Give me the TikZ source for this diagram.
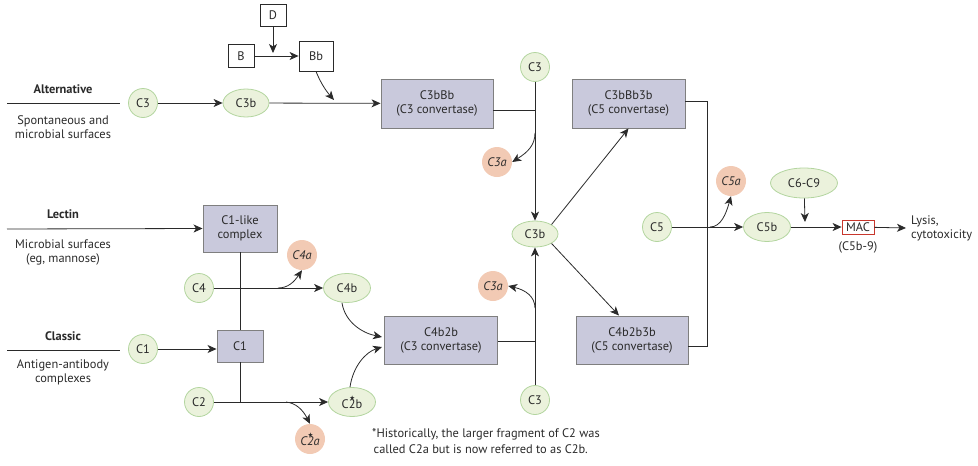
\documentclass[tikz,border=0pt]{standalone}
\usepackage{fontspec}
\setmainfont{PT Sans}
\newfontfamily\dejavu{DejaVu Sans}
\usetikzlibrary{arrows.meta,shapes.geometric}
\definecolor{gfill}{HTML}{EBF2DC}
\definecolor{gline}{HTML}{B3D59F}
\definecolor{sfill}{HTML}{F2CAB4}
\definecolor{bfill}{HTML}{C9C9DC}
\definecolor{bline}{HTML}{7F7F7F}
\definecolor{ink}{HTML}{2A2A2A}
\definecolor{macred}{HTML}{C8372D}
\newcommand{\starover}[1]{\makebox[0pt][l]{\makebox[0.55em]{\raisebox{1.25ex}{\fontsize{6.5}{6.5}\selectfont\upshape\dejavu ★}}}#1}
\begin{document}
\begin{tikzpicture}[x=1pt,y=-1pt,
  font=\fontsize{12.4}{14}\selectfont,
  every node/.style={inner sep=0pt, text=ink},
  gcirc/.style={circle, draw=gline, fill=gfill, line width=0.8pt, minimum size=29pt},
  gell/.style={ellipse, draw=gline, fill=gfill, line width=0.8pt, minimum width=47pt, minimum height=29pt},
  scirc/.style={circle, fill=sfill, minimum size=30pt, font=\fontsize{12.4}{14}\selectfont\itshape},
  cbox/.style={rectangle, draw=bline, fill=bfill, line width=0.9pt, align=center},
  wbox/.style={rectangle, draw=ink, fill=white, line width=0.8pt},
  conn/.style={draw=ink, line width=0.8pt},
  arr/.style={conn, -{Stealth[length=9pt,width=8pt,inset=2.5pt]}},
  ptitle/.style={font=\fontsize{12.4}{14}\selectfont\bfseries},
  psub/.style={align=center, font=\fontsize{12.4}{14}\selectfont},
]
\useasboundingbox (0,0) rectangle (978,466);

% pathway labels
\node[ptitle] (alt) at (63,89) {Alternative};
\node[psub] (altsub) at (63,127) {Spontaneous and\\microbial surfaces};
\node[ptitle] (lec) at (63,214) {Lectin};
\node[psub] (lecsub) at (63,252) {Microbial surfaces\\(eg, mannose)};
\node[ptitle] (cla) at (63,336) {Classic};
\node[psub] (clasub) at (63,372) {Antigen-antibody\\complexes};
\coordinate (altl1) at (7,103);  \coordinate (altl2) at (120,103);
\coordinate (clal1) at (7,350);  \coordinate (clal2) at (120,350);
\coordinate (lecl1) at (7,229);
\draw[conn] (altl1) -- (altl2);
\draw[conn] (clal1) -- (clal2);

% alternative pathway
\node[wbox, minimum width=26pt, minimum height=22pt] (d) at (273,15) {D};
\node[wbox, minimum width=26pt, minimum height=23pt] (b) at (241,56) {B};
\node[wbox, minimum width=34pt, minimum height=30pt] (bb) at (316,56) {Bb};
\node[gcirc] (c3alt) at (143,103) {C3};
\node[gell, minimum width=46pt, minimum height=28pt] (c3balt) at (246,103) {C3b};
\node[cbox, minimum width=112pt, minimum height=49pt] (c3bbb) at (437,103.5) {C3bBb\\(C3 convertase)};
\node[gcirc] (c3top) at (535,67) {C3};
\node[scirc] (c3aup) at (497,162) {C3a};
\node[gell, minimum width=46pt, minimum height=26pt] (c3bmid) at (535,234) {C3b};
\node[cbox, minimum width=113pt, minimum height=49pt] (c3bbb3b) at (628.5,103.5) {C3bBb3b\\(C5 convertase)};
\node[cbox, minimum width=112pt, minimum height=48pt] (c4b2b3b) at (632,340) {C4b2b3b\\(C5 convertase)};

\coordinate (dend) at (273,53);
\coordinate (bbend) at (334,100);
\coordinate (j1) at (535,110);
\coordinate (c3aupst) at (535,133);

\draw[arr] (b) -- (bb);
\draw[arr] (d) -- (dend);
\draw[arr] (bb.south) .. controls (321,84) and (327,92) .. (bbend);
\draw[arr] (c3alt) -- (c3balt);
\draw[arr] (c3balt) -- (c3bbb);
\draw[conn] (c3bbb.east |- j1) -- (j1);
\draw[arr] (c3top) -- (c3bmid);
\draw[arr] (c3aupst) .. controls (535,145) and (528,152) .. (c3aup.east);
\draw[arr] (c3bmid.north east) -- (c3bbb3b.south);
\draw[arr] (c3bmid.south east) -- ([xshift=-13pt]c4b2b3b.north);
\coordinate (r1) at (707,101);
\coordinate (r2) at (707,346);
\draw[conn] (c3bbb3b.east |- r1) -- (r1) -- (r2) -- (c4b2b3b.east |- r2);

% terminal pathway
\node[gcirc] (c5) at (657,227) {C5};
\node[scirc] (c5a) at (731,181) {C5a};
\node[gell] (c5b) at (767,227) {C5b};
\node[gell, minimum width=67pt, minimum height=30pt] (c69) at (804,183) {C6-C9};
\node[rectangle, draw=macred, line width=0.8pt, minimum width=32pt, minimum height=14pt] (mac) at (858,227) {MAC};
\node (macsub) at (858,247) {(C5b-9)};
\node[anchor=west, align=left] (lysis) at (911,228) {Lysis,\\cytotoxicity};
\coordinate (c5ast) at (710,227);
\coordinate (c69end) at (805,222);
\draw[arr] (c5) -- (c5b);
\draw[arr] (c5ast) .. controls (721,227) and (726,214) .. (c5a.south);
\draw[arr] (c69) -- (c69end);
\draw[arr] (c5b) -- (mac);
\draw[arr] (mac) -- ([xshift=-5pt]lysis.west);

% lectin & classic
\node[cbox, minimum width=74pt, minimum height=47pt] (c1like) at (240,228.5) {C1-like\\complex};
\node[scirc] (c4a) at (302,255) {C4a};
\node[gcirc] (c4) at (199,288) {C4};
\node[gell] (c4b) at (347,288) {C4b};
\node[gcirc] (c1c) at (143,349) {C1};
\node[cbox, minimum width=46pt, minimum height=32pt] (c1) at (240,346) {C1};
\node[gcirc] (c2) at (199,402) {C2};
\node[gell] (c2b) at (352,402) {C\starover{2}b};
\node[scirc] (c2a) at (310,439) {C\starover{2}a};
\node[cbox, minimum width=113pt, minimum height=48pt] (c4b2b) at (441,340) {C4b2b\\(C3 convertase)};
\node[gcirc] (c3bot) at (535,400) {C3};
\node[scirc] (c3alow) at (493,286) {C3a};

\coordinate (c4ast) at (278,288);
\coordinate (c2ast) at (286,402);
\coordinate (j2) at (240,402);
\coordinate (j3) at (535,341);
\coordinate (c3alowst) at (535,308);
\coordinate (c4bend) at (382,337);
\coordinate (c2bend) at (382,347);

\draw[arr] (lecl1) -- (c1like.west);
\draw[arr] (c4) -- (c4b);
\draw[arr] (c4ast) .. controls (288,288) and (294,282) .. (c4a.south);
\draw[conn] (c1like) -- (c1);
\draw[arr] (c1c) -- (c1.west |- c1c);
\draw[conn] (c1) -- (j2);
\draw[arr] (c2) -- (c2b);
\draw[arr] (c2ast) .. controls (296,403) and (303,410) .. (c2a.north);
\draw[arr] ([xshift=-5pt]c4b.south) .. controls (345,322) and (362,333) .. (c4bend);
\draw[arr] ([xshift=-2pt]c2b.north) .. controls (353,366) and (366,352) .. (c2bend);
\draw[conn] (c4b2b.east |- j3) -- (j3);
\draw[arr] (c3bot) -- (c3bmid);
\draw[arr] (c3alowst) .. controls (535,297) and (526,290) .. (c3alow.east);

% footnote
\node[anchor=north west, align=left, font=\fontsize{12.4}{16}\selectfont] (foot) at (372,428) {*Historically, the larger fragment of C2 was\\\hspace*{1.5pt}called C2a but is now referred to as C2b.};
\end{tikzpicture}
\end{document}
